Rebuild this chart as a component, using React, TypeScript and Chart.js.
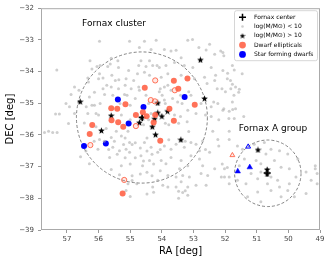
import React, { useEffect, useRef } from 'react';
import { Chart, registerables } from 'chart.js';

Chart.register(...registerables);

const FONT = 'DejaVu Sans';

const RA_MIN = 49;
const RA_MAX = 57.82;
const DEC_MIN = -39;
const DEC_MAX = -32;

const X_LABEL = 'RA [deg]';
const Y_LABEL = 'DEC [deg]';

const LEGEND_LABELS = [
  'Fornax center',
  'log(M/M\u2299) < 10',
  'log(M/M\u2299) > 10',
  'Dwarf ellipticals',
  'Star forming dwarfs',
];

const TEXT_LABELS: { text: string; ra: number; dec: number }[] = [
  { text: 'Fornax cluster', ra: 56.52, dec: -32.48 },
  { text: 'Fornax A group', ra: 51.57, dec: -35.8 },
];

const CIRCLES: { ra: number; dec: number; r: number }[] = [
  { ra: 54.63, dec: -35.45, r: 2.07 },
  { ra: 50.65, dec: -37.21, r: 1.05 },
];

const CENTERS: [number, number][] = [
  [54.62, -35.45],
  [50.67, -37.2],
];

const LOW_MASS: [number, number][] = [
  [55.97, -33.04], [57.32, -33.95], [56.27, -33.66], [56.05, -33.84], [55.71, -33.84], [55.6, -33.58],
  [55.39, -33.66], [55.02, -33.04], [55.97, -34.07], [55.86, -34.2], [55.58, -34.12], [55.36, -34.26],
  [55.13, -34.23], [56.34, -34.2], [56.76, -34.49], [56.62, -34.59], [56.87, -34.72], [57.03, -35.01],
  [57.24, -35.34], [57.36, -35.34], [56.29, -34.8], [56.13, -34.65], [55.86, -34.54], [55.6, -34.49],
  [55.37, -34.54], [55.18, -34.72], [54.97, -34.54], [56.39, -35.11], [56.13, -35.06], [55.81, -34.72],
  [55.55, -34.75], [56.08, -35.32], [56.34, -35.32], [55.28, -35.37], [56.76, -35.32], [56.92, -35.11],
  [54.55, -33.04], [54.18, -33.01], [53.18, -33.01], [53.03, -32.99], [52.49, -33.14], [52.6, -33.32],
  [52.33, -33.45], [52.07, -33.4], [54.71, -33.24], [54.34, -33.3], [53.92, -33.3], [53.71, -33.35],
  [53.55, -33.33], [53.39, -33.56], [54.66, -33.66], [54.39, -33.66], [54.5, -33.84], [54.29, -33.81],
  [54.08, -33.87], [53.87, -33.81], [53.6, -33.71], [53.29, -33.81], [53.02, -33.87], [52.44, -33.87],
  [52.07, -33.97], [54.77, -34.07], [54.55, -34.02], [54.39, -34.12], [54.02, -34.18], [53.81, -34.07],
  [53.39, -34.12], [52.97, -34.23], [52.65, -34.18], [52.33, -34.28], [52.1, -34.54], [53.92, -34.49],
  [53.81, -34.43], [53.71, -34.59], [54.08, -34.64], [54.5, -34.75], [54.71, -34.59], [53.92, -34.9],
  [53.66, -34.85], [53.5, -34.96], [53.08, -34.75], [52.76, -35.01], [52.44, -35.11], [52.23, -35.01],
  [52.07, -35.22], [53.18, -35.22], [52.92, -35.32], [52.44, -35.42], [53.6, -35.37], [54.34, -35.32],
  [52.83, -33.24], [52.14, -33.35], [52.04, -33.5], [51.77, -33.81], [51.93, -34.23], [51.83, -34.28],
  [51.67, -34.49], [51.46, -34.07], [51.99, -34.64], [51.72, -34.75], [52.3, -34.12], [52.25, -34.54],
  [52.57, -34.38], [52.36, -34.96], [52.04, -35.17], [51.77, -34.96], [51.67, -35.17], [51.88, -35.48],
  [52.62, -35.37], [52.2, -35.52], [51.41, -35.42], [51.71, -33.95], [51.92, -34.05], [51.77, -34.4],
  [51.82, -34.54], [51.55, -34.56], [51.57, -34.65], [51.76, -35.2], [51.87, -35.25], [51.71, -35.48],
  [56.95, -35.64], [57.71, -35.92], [57.58, -35.88], [57.45, -35.92], [57.31, -35.92], [56.45, -35.62],
  [56.08, -35.74], [55.76, -35.8], [55.44, -35.88], [55.07, -35.88], [55.28, -36.03], [55.6, -36.08],
  [55.97, -36.14], [56.57, -36.69], [56.29, -36.91], [56.02, -36.45], [55.55, -36.39], [55.34, -36.5],
  [55.13, -36.45], [55.02, -36.55], [55.65, -36.71], [55.28, -36.97], [55.13, -37.75], [55.07, -37.54],
  [55.34, -37.26], [55.6, -37.09], [55.02, -36.24], [55.68, -36.46], [55.41, -36.61], [55.16, -36.72],
  [55.0, -36.92], [55.82, -36.2], [55.5, -36.2], [55.21, -36.3], [54.94, -36.3], [54.68, -36.41],
  [54.47, -36.51], [54.31, -36.61], [54.05, -36.46], [54.84, -36.72], [54.58, -36.82], [54.26, -36.92],
  [54.05, -37.13], [54.94, -37.29], [54.68, -37.23], [54.47, -37.18], [54.31, -37.29], [54.94, -37.44],
  [54.79, -37.54], [55.0, -37.94], [54.47, -37.86], [54.26, -37.81], [56.14, -36.2], [56.4, -36.51],
  [54.55, -36.24], [54.34, -36.39], [54.13, -36.55], [53.92, -36.35], [53.71, -36.45], [53.55, -36.29],
  [53.29, -36.39], [53.08, -36.24], [52.92, -36.29], [52.71, -36.19], [52.81, -36.5], [54.66, -36.66],
  [54.39, -36.81], [54.02, -36.81], [53.71, -36.71], [53.39, -36.81], [53.08, -36.66], [52.81, -36.76],
  [52.49, -36.55], [54.61, -36.97], [53.87, -36.91], [53.44, -37.07], [53.18, -36.97], [52.71, -36.97],
  [52.33, -37.07], [53.81, -37.28], [53.55, -37.33], [53.34, -37.28], [53.13, -37.33], [52.76, -37.22],
  [52.55, -37.28], [52.12, -37.33], [54.13, -37.43], [53.55, -37.64], [53.39, -37.48], [54.29, -37.64],
  [53.97, -37.59], [53.81, -37.64], [53.18, -37.64], [52.92, -37.59], [52.6, -37.59], [53.34, -37.82],
  [53.18, -37.9], [53.47, -38.0], [52.39, -35.88], [52.23, -36.14], [52.02, -37.07], [52.02, -37.33],
  [51.87, -35.88], [51.87, -36.14], [51.61, -36.35], [51.45, -36.45], [51.08, -36.29], [50.76, -36.24],
  [50.55, -36.45], [50.28, -36.5], [50.02, -36.6], [49.7, -36.76], [49.44, -37.17], [49.15, -37.07],
  [49.09, -37.22], [49.28, -37.43], [49.09, -37.54], [49.44, -37.85], [49.81, -37.95], [50.02, -37.75],
  [50.34, -37.43], [50.55, -37.33], [50.97, -37.38], [51.34, -37.54], [51.61, -37.43], [51.87, -37.54],
  [51.87, -37.33], [50.97, -37.8], [50.55, -37.75], [50.23, -37.95], [51.02, -36.81], [50.87, -36.91],
  [50.71, -36.6], [50.44, -36.81], [50.23, -37.02], [49.97, -37.07], [49.76, -37.33], [51.39, -36.76],
  [51.55, -36.97], [51.18, -37.22], [50.87, -37.17], [49.97, -37.54], [50.66, -37.54], [50.87, -38.11],
  [51.29, -37.95], [50.28, -37.64], [49.15, -36.97], [52.62, -36.46], [52.2, -36.35], [52.09, -36.92],
  [51.93, -37.03], [53.26, -37.76], [53.47, -37.78], [56.21, -33.92], [55.95, -33.81], [55.63, -33.76],
  [55.37, -33.87], [55.05, -33.97], [54.73, -33.81], [54.15, -33.81], [56.32, -34.33], [56.0, -34.23],
  [55.74, -34.43], [55.47, -34.28], [55.16, -34.43], [54.89, -34.28], [54.73, -34.49], [54.05, -34.54],
  [55.1, -34.75], [54.84, -34.85], [53.99, -34.75], [53.41, -34.75], [53.15, -34.64], [56.21, -35.06],
  [55.95, -35.01], [55.32, -35.01], [55.0, -35.06], [54.42, -35.01], [53.89, -35.01], [53.36, -35.01],
  [56.0, -35.37], [55.0, -35.52], [54.42, -35.52], [53.89, -35.63], [53.41, -35.42], [53.2, -35.58],
  [54.58, -35.68], [53.78, -35.68], [53.47, -35.63], [53.15, -35.89], [55.16, -36.1], [54.84, -36.25],
  [54.47, -36.1], [53.78, -36.15], [53.26, -36.2],
];

const HIGH_MASS: [number, number][] = [
  [52.78, -33.63], [56.58, -34.95], [52.65, -34.85], [55.6, -35.39], [55.91, -35.86], [54.13, -34.99],
  [53.82, -35.25], [54.13, -35.3], [54.0, -35.41], [54.63, -35.45], [54.23, -35.49], [54.71, -35.61],
  [54.3, -35.74], [54.2, -35.99], [53.4, -36.15], [50.96, -36.47], [50.67, -37.09], [50.67, -37.23],
];

const DWARF_ELLIPTICALS: [number, number][] = [
  [54.54, -34.51], [53.62, -34.29], [53.19, -34.22], [53.48, -34.54], [52.96, -35.05], [53.76, -35.17],
  [55.15, -35.03], [55.6, -35.16], [55.41, -35.17], [54.6, -35.28], [54.82, -35.37], [54.48, -35.41],
  [54.21, -35.37], [54.26, -35.61], [53.62, -35.55], [55.59, -35.54], [55.38, -35.6], [55.22, -35.74],
  [56.2, -35.69], [56.28, -35.97], [54.05, -36.18], [55.24, -37.85],
];

const DWARF_ELLIPTICALS_OPEN: [number, number][] = [
  [54.21, -34.28], [54.35, -34.9], [54.22, -34.94], [53.59, -34.59], [54.82, -35.72], [56.26, -36.32],
  [55.19, -37.42],
];

const STAR_FORMING: [number, number][] = [
  [55.39, -34.88], [54.58, -35.12], [53.28, -34.8], [55.05, -35.64], [55.77, -36.27], [56.46, -36.35],
];

const GROUP_BLUE_TRI: [number, number][] = [[51.6, -37.15], [51.22, -37.02]];
const GROUP_BLUE_TRI_OPEN: [number, number][] = [[51.27, -36.37]];
const GROUP_RED_TRI_OPEN: [number, number][] = [[51.77, -36.64]];

const TOMATO = 'rgba(255,99,71,0.9)';
const BLUE = '#0000ff';
const GRAY = 'rgba(165,165,165,0.55)';

const toXY = (arr: [number, number][]) => arr.map(([x, y]) => ({ x, y }));

function makeStar(size: number, color: string): HTMLCanvasElement {
  const c = document.createElement('canvas');
  c.width = size;
  c.height = size;
  const ctx = c.getContext('2d')!;
  const cx = size / 2;
  const cy = size / 2 + 0.3;
  const R = size / 2;
  const r = R * 0.42;
  ctx.beginPath();
  for (let i = 0; i < 10; i++) {
    const ang = -Math.PI / 2 + (i * Math.PI) / 5;
    const rad = i % 2 === 0 ? R : r;
    ctx.lineTo(cx + rad * Math.cos(ang), cy + rad * Math.sin(ang));
  }
  ctx.closePath();
  ctx.fillStyle = color;
  ctx.fill();
  return c;
}

const fmt = (v: number) => (v < 0 ? '\u2212' + Math.abs(v) : String(v));

export default function App() {
  const ref = useRef<HTMLCanvasElement | null>(null);

  useEffect(() => {
    if (!ref.current) return;
    const star = makeStar(7, '#000');
    const legendStar = makeStar(6, '#000');

    const circlesPlugin = {
      id: 'circles',
      beforeDatasetsDraw(chart: any) {
        const { ctx, chartArea } = chart;
        const x = chart.scales.x;
        const y = chart.scales.y;
        ctx.save();
        ctx.beginPath();
        ctx.rect(chartArea.left, chartArea.top, chartArea.width, chartArea.height);
        ctx.clip();
        ctx.strokeStyle = '#666';
        ctx.lineWidth = 0.8;
        ctx.setLineDash([3, 2]);
        for (const c of CIRCLES) {
          const cx = x.getPixelForValue(c.ra);
          const cy = y.getPixelForValue(c.dec);
          const rx = Math.abs(x.getPixelForValue(c.ra + c.r) - cx);
          const ry = Math.abs(y.getPixelForValue(c.dec + c.r) - cy);
          ctx.beginPath();
          ctx.ellipse(cx, cy, rx, ry, 0, 0, Math.PI * 2);
          ctx.stroke();
        }
        ctx.restore();
      },
      afterDraw(chart: any) {
        const { ctx, chartArea } = chart;
        const x = chart.scales.x;
        const y = chart.scales.y;
        ctx.save();
        ctx.strokeStyle = '#aaa';
        ctx.lineWidth = 1;
        ctx.strokeRect(chartArea.left + 0.5, chartArea.top + 0.5, chartArea.width - 1, chartArea.height - 1);
        ctx.fillStyle = '#000';
        ctx.font = `9px "${FONT}"`;
        ctx.textAlign = 'left';
        ctx.textBaseline = 'middle';
        for (const t of TEXT_LABELS) {
          ctx.fillText(t.text, x.getPixelForValue(t.ra), y.getPixelForValue(t.dec));
        }
        const bx = chartArea.right - 86;
        const by = chartArea.top + 2;
        const bw = 83;
        const bh = 50;
        ctx.fillStyle = 'rgba(255,255,255,0.85)';
        ctx.strokeStyle = '#ccc';
        ctx.lineWidth = 0.8;
        ctx.beginPath();
        (ctx as any).roundRect(bx + 0.5, by + 0.5, bw, bh, 2);
        ctx.fill();
        ctx.stroke();
        const mx = bx + 8.5;
        const tx = bx + 20;
        const step = 9.3;
        ctx.font = `6px "${FONT}"`;
        ctx.textBaseline = 'middle';
        LEGEND_LABELS.forEach((label, i) => {
          const yy = by + 7 + i * step;
          if (i === 0) {
            ctx.strokeStyle = '#000';
            ctx.lineWidth = 1.5;
            ctx.beginPath();
            ctx.moveTo(mx - 3.5, yy);
            ctx.lineTo(mx + 3.5, yy);
            ctx.moveTo(mx, yy - 3.5);
            ctx.lineTo(mx, yy + 3.5);
            ctx.stroke();
          } else if (i === 1) {
            ctx.fillStyle = GRAY;
            ctx.beginPath();
            ctx.arc(mx, yy, 1.3, 0, Math.PI * 2);
            ctx.fill();
          } else if (i === 2) {
            ctx.drawImage(legendStar, mx - 3, yy - 3);
          } else {
            ctx.fillStyle = i === 3 ? TOMATO : BLUE;
            ctx.beginPath();
            ctx.arc(mx, yy, 3.4, 0, Math.PI * 2);
            ctx.fill();
          }
          ctx.fillStyle = '#000';
          ctx.fillText(label, tx, yy);
        });
        ctx.restore();
      },
    };

    const chart = new Chart(ref.current, {
      type: 'scatter',
      data: {
        datasets: [
          {
            label: LEGEND_LABELS[1],
            data: toXY(LOW_MASS),
            pointRadius: 1.5,
            pointBackgroundColor: GRAY,
            pointBorderWidth: 0,
            pointBorderColor: 'transparent',
          },
          {
            label: 'open dE',
            data: toXY(DWARF_ELLIPTICALS_OPEN),
            pointRadius: 2.6,
            pointBackgroundColor: 'rgba(255,99,71,0.15)',
            pointBorderColor: TOMATO,
            pointBorderWidth: 1,
          },
          {
            label: LEGEND_LABELS[3],
            data: toXY(DWARF_ELLIPTICALS),
            pointRadius: 3,
            pointBackgroundColor: TOMATO,
            pointBorderWidth: 0,
            pointBorderColor: 'transparent',
          },
          {
            label: LEGEND_LABELS[4],
            data: toXY(STAR_FORMING),
            pointRadius: 3,
            pointBackgroundColor: BLUE,
            pointBorderWidth: 0,
            pointBorderColor: 'transparent',
          },
          {
            label: 'group blue',
            data: toXY(GROUP_BLUE_TRI),
            pointStyle: 'triangle',
            pointRadius: 3.2,
            pointBackgroundColor: BLUE,
            pointBorderColor: BLUE,
            pointBorderWidth: 0.5,
          },
          {
            label: 'group blue open',
            data: toXY(GROUP_BLUE_TRI_OPEN),
            pointStyle: 'triangle',
            pointRadius: 2.8,
            pointBackgroundColor: 'rgba(0,0,255,0.1)',
            pointBorderColor: BLUE,
            pointBorderWidth: 1,
          },
          {
            label: 'group red open',
            data: toXY(GROUP_RED_TRI_OPEN),
            pointStyle: 'triangle',
            pointRadius: 2.8,
            pointBackgroundColor: 'rgba(255,99,71,0.15)',
            pointBorderColor: TOMATO,
            pointBorderWidth: 1,
          },
          {
            label: LEGEND_LABELS[2],
            data: toXY(HIGH_MASS),
            pointStyle: star,
            pointRadius: 3.5,
          },
          {
            label: LEGEND_LABELS[0],
            data: toXY(CENTERS),
            pointStyle: 'cross',
            pointRadius: 3.5,
            pointBorderColor: '#000',
            pointBorderWidth: 1.5,
          },
        ],
      },
      options: {
        responsive: false,
        animation: false,
        devicePixelRatio: 1,
        events: [],
        layout: { padding: { top: 5, right: 10, left: 0, bottom: 0 } },
        plugins: {
          legend: { display: false },
          tooltip: { enabled: false },
        },
        scales: {
          x: {
            type: 'linear',
            min: RA_MIN,
            max: RA_MAX,
            reverse: true,
            afterFit: (s: any) => {
              s.height = 29;
            },
            border: { display: false },
            grid: { drawOnChartArea: false, drawTicks: true, tickLength: 3, color: '#999' },
            ticks: {
              stepSize: 1,
              includeBounds: false,
              padding: 2,
              color: '#444',
              font: { family: FONT, size: 7 },
              callback: (v: any) => fmt(Number(v)),
            },
            title: {
              display: true,
              text: X_LABEL,
              color: '#000',
              font: { family: FONT, size: 10 },
              padding: { top: 0, bottom: 1.5 },
            },
          },
          y: {
            type: 'linear',
            min: DEC_MIN,
            max: DEC_MAX,
            afterFit: (s: any) => {
              s.width = 41;
            },
            border: { display: false },
            grid: { drawOnChartArea: false, drawTicks: true, tickLength: 3, color: '#999' },
            ticks: {
              stepSize: 1,
              padding: 4,
              color: '#444',
              font: { family: FONT, size: 7 },
              callback: (v: any) => fmt(Number(v)),
            },
            title: {
              display: true,
              text: Y_LABEL,
              color: '#000',
              font: { family: FONT, size: 10 },
              padding: { top: 4, bottom: 0 },
            },
          },
        },
      },
      plugins: [circlesPlugin],
    } as any);

    return () => chart.destroy();
  }, []);

  return (
    <div style={{ position: 'fixed', left: 0, top: 0, width: 330, height: 259, background: '#fff' }}>
      <canvas ref={ref} width={330} height={259} />
    </div>
  );
}
